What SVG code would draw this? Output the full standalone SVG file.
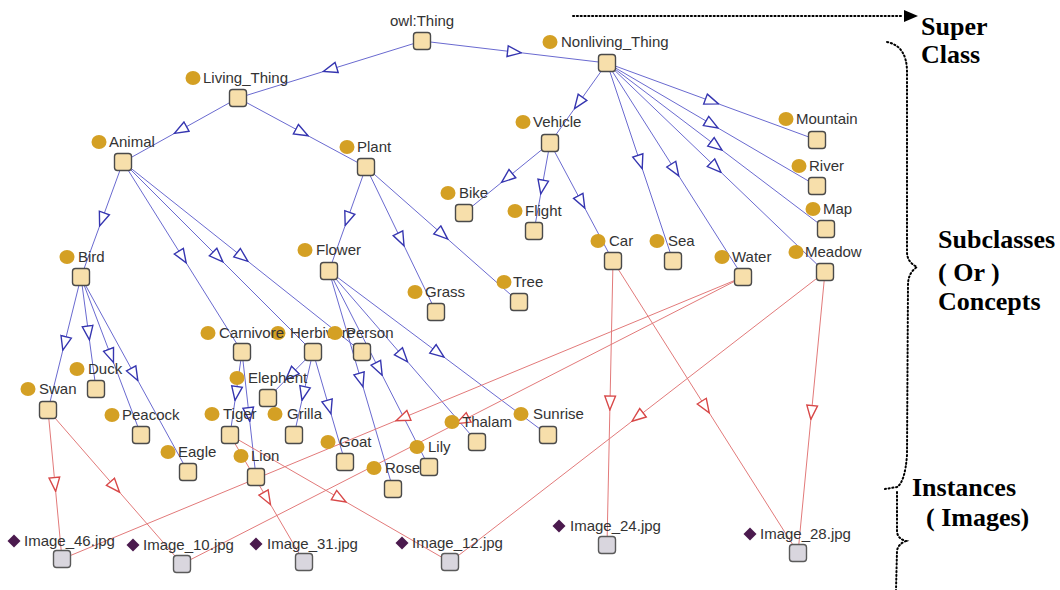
<svg xmlns="http://www.w3.org/2000/svg" width="1060" height="590" viewBox="0 0 1060 590">
<style>
.lbl{font-family:"Liberation Sans",Arial,sans-serif;font-size:15px;fill:#333}
.cls{fill:#f7dfab;stroke:#4a4a4a;stroke-width:1.4}
.ins{fill:#d9d6de;stroke:#5a5a5a;stroke-width:1.4}
.dot{fill:#d4a024}
.dia{fill:#4b1a4e}
.sub{fill:none;stroke:#6a6ad0;stroke-width:1;marker-mid:url(#ab)}
.inst{fill:none;stroke:#e27a7a;stroke-width:1;marker-mid:url(#ar)}
.note{font-family:"Liberation Serif","Times New Roman",serif;font-size:26px;font-weight:bold;fill:#000}
.dots{fill:none;stroke:#000;stroke-width:2;stroke-dasharray:1.2 2.6;stroke-linecap:round}
</style>
<defs>
<marker id="ab" markerUnits="userSpaceOnUse" markerWidth="16" markerHeight="14" viewBox="-1 -1 15 12" refX="6.5" refY="5" orient="auto">
<path d="M0,0 L13,5 L0,10 Z" fill="#fff" stroke="#3535b0" stroke-width="1.3"/>
</marker>
<marker id="ar" markerUnits="userSpaceOnUse" markerWidth="16" markerHeight="14" viewBox="-1 -1 15 12" refX="6.5" refY="5" orient="auto">
<path d="M0,0 L13,5 L0,10 Z" fill="#fff" stroke="#d84848" stroke-width="1.3"/>
</marker>
</defs>
<rect width="1060" height="590" fill="#fff"/>

<g id="connectors">
<polyline class="sub" points="422,41 330,69.5 238,98"/>
<polyline class="sub" points="422,41 514.5,52 607,63"/>
<polyline class="sub" points="238,98 180.5,130 123,162"/>
<polyline class="sub" points="238,98 302,132.5 366,167"/>
<polyline class="sub" points="607,63 578.5,103 550,143"/>
<polyline class="sub" points="607,63 712,101.5 817,140"/>
<polyline class="sub" points="607,63 712,124.5 817,186"/>
<polyline class="sub" points="607,63 716.5,146 826,229"/>
<polyline class="sub" points="607,63 716,167.5 825,272"/>
<polyline class="sub" points="607,63 675,170 743,277"/>
<polyline class="sub" points="607,63 640,162 673,261"/>
<polyline class="sub" points="550,143 507,178 464,213"/>
<polyline class="sub" points="550,143 542,187 534,231"/>
<polyline class="sub" points="550,143 581.5,202 613,261"/>
<polyline class="sub" points="123,162 102,219.5 81,277"/>
<polyline class="sub" points="123,162 182.5,257 242,352"/>
<polyline class="sub" points="123,162 218,257 313,352"/>
<polyline class="sub" points="123,162 242.5,257 362,352"/>
<polyline class="sub" points="366,167 347.5,219 329,271"/>
<polyline class="sub" points="366,167 401,239.5 436,312"/>
<polyline class="sub" points="366,167 442.5,234.5 519,302"/>
<polyline class="sub" points="81,277 64.5,343.5 48,410"/>
<polyline class="sub" points="81,277 88.5,333 96,389"/>
<polyline class="sub" points="81,277 111,356 141,435"/>
<polyline class="sub" points="81,277 134.5,374.5 188,472"/>
<polyline class="sub" points="242,352 236,393.5 230,435"/>
<polyline class="sub" points="242,352 249,414.5 256,477"/>
<polyline class="sub" points="313,352 290.5,375 268,398"/>
<polyline class="sub" points="313,352 303.5,393.5 294,435"/>
<polyline class="sub" points="313,352 329,407 345,462"/>
<polyline class="sub" points="329,271 361,380 393,489"/>
<polyline class="sub" points="329,271 379,369 429,467"/>
<polyline class="sub" points="329,271 403,356.5 477,442"/>
<polyline class="sub" points="329,271 438.5,353 548,435"/>
<polyline class="inst" points="48,410 55,484.5 62,559"/>
<polyline class="inst" points="48,410 115,487 182,564"/>
<polyline class="inst" points="230,435 340,498.5 450,562"/>
<polyline class="inst" points="230,435 267,498.5 304,562"/>
<polyline class="inst" points="743,277 402.5,418 62,559"/>
<polyline class="inst" points="743,277 462.5,420.5 182,564"/>
<polyline class="inst" points="825,272 637.5,417 450,562"/>
<polyline class="inst" points="825,272 811.5,412.5 798,553"/>
<polyline class="inst" points="613,261 610,403 607,545"/>
<polyline class="inst" points="613,261 705.5,407 798,553"/>
</g>

<g id="node-owl-thing"><text class="lbl" x="390" y="26">owl:Thing</text><rect class="cls" x="413.5" y="32.5" width="17" height="17" rx="3"/></g>
<g id="node-nonliving-thing"><ellipse class="dot" cx="550" cy="42" rx="7.5" ry="7"/><text class="lbl" x="561" y="47">Nonliving_Thing</text><rect class="cls" x="598.5" y="54.5" width="17" height="17" rx="3"/></g>
<g id="node-living-thing"><ellipse class="dot" cx="193" cy="78" rx="7.5" ry="7"/><text class="lbl" x="203" y="83">Living_Thing</text><rect class="cls" x="229.5" y="89.5" width="17" height="17" rx="3"/></g>
<g id="node-animal"><ellipse class="dot" cx="99" cy="142" rx="7.5" ry="7"/><text class="lbl" x="109" y="147">Animal</text><rect class="cls" x="114.5" y="153.5" width="17" height="17" rx="3"/></g>
<g id="node-plant"><ellipse class="dot" cx="347" cy="147" rx="7.5" ry="7"/><text class="lbl" x="357" y="152">Plant</text><rect class="cls" x="357.5" y="158.5" width="17" height="17" rx="3"/></g>
<g id="node-vehicle"><ellipse class="dot" cx="523" cy="122" rx="7.5" ry="7"/><text class="lbl" x="533" y="127">Vehicle</text><rect class="cls" x="541.5" y="134.5" width="17" height="17" rx="3"/></g>
<g id="node-mountain"><ellipse class="dot" cx="786" cy="119" rx="7.5" ry="7"/><text class="lbl" x="796" y="124">Mountain</text><rect class="cls" x="808.5" y="131.5" width="17" height="17" rx="3"/></g>
<g id="node-river"><ellipse class="dot" cx="799" cy="166" rx="7.5" ry="7"/><text class="lbl" x="809" y="171">River</text><rect class="cls" x="808.5" y="177.5" width="17" height="17" rx="3"/></g>
<g id="node-map"><ellipse class="dot" cx="813" cy="209" rx="7.5" ry="7"/><text class="lbl" x="823" y="214">Map</text><rect class="cls" x="817.5" y="220.5" width="17" height="17" rx="3"/></g>
<g id="node-meadow"><ellipse class="dot" cx="796" cy="252" rx="7.5" ry="7"/><text class="lbl" x="805" y="257">Meadow</text><rect class="cls" x="816.5" y="263.5" width="17" height="17" rx="3"/></g>
<g id="node-water"><ellipse class="dot" cx="722" cy="257" rx="7.5" ry="7"/><text class="lbl" x="732" y="262">Water</text><rect class="cls" x="734.5" y="268.5" width="17" height="17" rx="3"/></g>
<g id="node-bike"><ellipse class="dot" cx="448" cy="193" rx="7.5" ry="7"/><text class="lbl" x="459" y="198">Bike</text><rect class="cls" x="455.5" y="204.5" width="17" height="17" rx="3"/></g>
<g id="node-flight"><ellipse class="dot" cx="515" cy="211" rx="7.5" ry="7"/><text class="lbl" x="525" y="216">Flight</text><rect class="cls" x="525.5" y="222.5" width="17" height="17" rx="3"/></g>
<g id="node-car"><ellipse class="dot" cx="598" cy="241" rx="7.5" ry="7"/><text class="lbl" x="609" y="246">Car</text><rect class="cls" x="604.5" y="252.5" width="17" height="17" rx="3"/></g>
<g id="node-sea"><ellipse class="dot" cx="657" cy="241" rx="7.5" ry="7"/><text class="lbl" x="668" y="246">Sea</text><rect class="cls" x="664.5" y="252.5" width="17" height="17" rx="3"/></g>
<g id="node-tree"><ellipse class="dot" cx="504" cy="282" rx="7.5" ry="7"/><text class="lbl" x="513" y="287">Tree</text><rect class="cls" x="510.5" y="293.5" width="17" height="17" rx="3"/></g>
<g id="node-grass"><ellipse class="dot" cx="415" cy="292" rx="7.5" ry="7"/><text class="lbl" x="425" y="297">Grass</text><rect class="cls" x="427.5" y="303.5" width="17" height="17" rx="3"/></g>
<g id="node-flower"><ellipse class="dot" cx="305" cy="250" rx="7.5" ry="7"/><text class="lbl" x="316" y="255">Flower</text><rect class="cls" x="320.5" y="262.5" width="17" height="17" rx="3"/></g>
<g id="node-bird"><ellipse class="dot" cx="67" cy="257" rx="7.5" ry="7"/><text class="lbl" x="78" y="262">Bird</text><rect class="cls" x="72.5" y="268.5" width="17" height="17" rx="3"/></g>
<g id="node-herbivore"><ellipse class="dot" cx="278" cy="333" rx="7.5" ry="7"/><text class="lbl" x="290" y="338">Herbivore</text><rect class="cls" x="304.5" y="343.5" width="17" height="17" rx="3"/></g>
<g id="node-carnivore"><ellipse class="dot" cx="208" cy="333" rx="7.5" ry="7"/><text class="lbl" x="219" y="338">Carnivore</text><rect class="cls" x="233.5" y="343.5" width="17" height="17" rx="3"/></g>
<g id="node-person"><ellipse class="dot" cx="335" cy="333" rx="7.5" ry="7"/><text class="lbl" x="346" y="338">Person</text><rect class="cls" x="353.5" y="343.5" width="17" height="17" rx="3"/></g>
<g id="node-elephant"><ellipse class="dot" cx="237" cy="378" rx="7.5" ry="7"/><text class="lbl" x="248" y="383">Elephent</text><rect class="cls" x="259.5" y="389.5" width="17" height="17" rx="3"/></g>
<g id="node-tiger"><ellipse class="dot" cx="212" cy="414" rx="7.5" ry="7"/><text class="lbl" x="223" y="419">Tiger</text><rect class="cls" x="221.5" y="426.5" width="17" height="17" rx="3"/></g>
<g id="node-grilla"><ellipse class="dot" cx="275" cy="414" rx="7.5" ry="7"/><text class="lbl" x="287" y="419">Grilla</text><rect class="cls" x="285.5" y="426.5" width="17" height="17" rx="3"/></g>
<g id="node-goat"><ellipse class="dot" cx="328" cy="442" rx="7.5" ry="7"/><text class="lbl" x="339" y="447">Goat</text><rect class="cls" x="336.5" y="453.5" width="17" height="17" rx="3"/></g>
<g id="node-lion"><ellipse class="dot" cx="241" cy="456" rx="7.5" ry="7"/><text class="lbl" x="251" y="461">Lion</text><rect class="cls" x="247.5" y="468.5" width="17" height="17" rx="3"/></g>
<g id="node-eagle"><ellipse class="dot" cx="168" cy="452" rx="7.5" ry="7"/><text class="lbl" x="178" y="457">Eagle</text><rect class="cls" x="179.5" y="463.5" width="17" height="17" rx="3"/></g>
<g id="node-peacock"><ellipse class="dot" cx="112" cy="415" rx="7.5" ry="7"/><text class="lbl" x="122" y="420">Peacock</text><rect class="cls" x="132.5" y="426.5" width="17" height="17" rx="3"/></g>
<g id="node-swan"><ellipse class="dot" cx="28" cy="389" rx="7.5" ry="7"/><text class="lbl" x="39" y="394">Swan</text><rect class="cls" x="39.5" y="401.5" width="17" height="17" rx="3"/></g>
<g id="node-duck"><ellipse class="dot" cx="77" cy="369" rx="7.5" ry="7"/><text class="lbl" x="88" y="374">Duck</text><rect class="cls" x="87.5" y="380.5" width="17" height="17" rx="3"/></g>
<g id="node-thalam"><ellipse class="dot" cx="452" cy="422" rx="7.5" ry="7"/><text class="lbl" x="462" y="427">Thalam</text><rect class="cls" x="468.5" y="433.5" width="17" height="17" rx="3"/></g>
<g id="node-sunrise"><ellipse class="dot" cx="521" cy="414" rx="7.5" ry="7"/><text class="lbl" x="533" y="419">Sunrise</text><rect class="cls" x="539.5" y="426.5" width="17" height="17" rx="3"/></g>
<g id="node-lily"><ellipse class="dot" cx="417" cy="447" rx="7.5" ry="7"/><text class="lbl" x="428" y="452">Lily</text><rect class="cls" x="420.5" y="458.5" width="17" height="17" rx="3"/></g>
<g id="node-rose"><ellipse class="dot" cx="374" cy="468" rx="7.5" ry="7"/><text class="lbl" x="385" y="473">Rose</text><rect class="cls" x="384.5" y="480.5" width="17" height="17" rx="3"/></g>

<g id="node-image-46"><polygon class="dia" points="14,534.5 20.5,541 14,547.5 7.5,541"/><text class="lbl" x="24" y="546">Image_46.jpg</text><rect class="ins" x="53.5" y="550.5" width="17" height="17" rx="3"/></g>
<g id="node-image-10"><polygon class="dia" points="133,538.5 139.5,545 133,551.5 126.5,545"/><text class="lbl" x="143" y="550">Image_10.jpg</text><rect class="ins" x="173.5" y="555.5" width="17" height="17" rx="3"/></g>
<g id="node-image-31"><polygon class="dia" points="256,537.5 262.5,544 256,550.5 249.5,544"/><text class="lbl" x="267" y="549">Image_31.jpg</text><rect class="ins" x="295.5" y="553.5" width="17" height="17" rx="3"/></g>
<g id="node-image-12"><polygon class="dia" points="402,536.5 408.5,543 402,549.5 395.5,543"/><text class="lbl" x="412" y="548">Image_12.jpg</text><rect class="ins" x="441.5" y="553.5" width="17" height="17" rx="3"/></g>
<g id="node-image-24"><polygon class="dia" points="559,519.5 565.5,526 559,532.5 552.5,526"/><text class="lbl" x="570" y="531">Image_24.jpg</text><rect class="ins" x="598.5" y="536.5" width="17" height="17" rx="3"/></g>
<g id="node-image-28"><polygon class="dia" points="750,527.5 756.5,534 750,540.5 743.5,534"/><text class="lbl" x="760" y="539">Image_28.jpg</text><rect class="ins" x="789.5" y="544.5" width="17" height="17" rx="3"/></g>

<g id="annotations">
<line class="dots" x1="573" y1="16" x2="903" y2="16"/>
<polygon points="904,10 918,16 904,22" fill="#000"/>
<path class="dots" d="M887,42 Q907,46 907,72 L907,252 Q907,262 917,267 Q908,273 908,285 L907,455 Q905,482 897,487 L885,489"/>
<path class="dots" d="M897,492 L897,532 Q898,539 906,541 Q898,544 897,551 L896,590"/>
<text class="note" x="921" y="35">Super</text>
<text class="note" x="921" y="63">Class</text>
<text class="note" x="938" y="248">Subclasses</text>
<text class="note" x="938" y="281">( Or )</text>
<text class="note" x="938" y="310">Concepts</text>
<text class="note" x="912" y="496">Instances</text>
<text class="note" x="926" y="526">( Images)</text>
</g>
</svg>
